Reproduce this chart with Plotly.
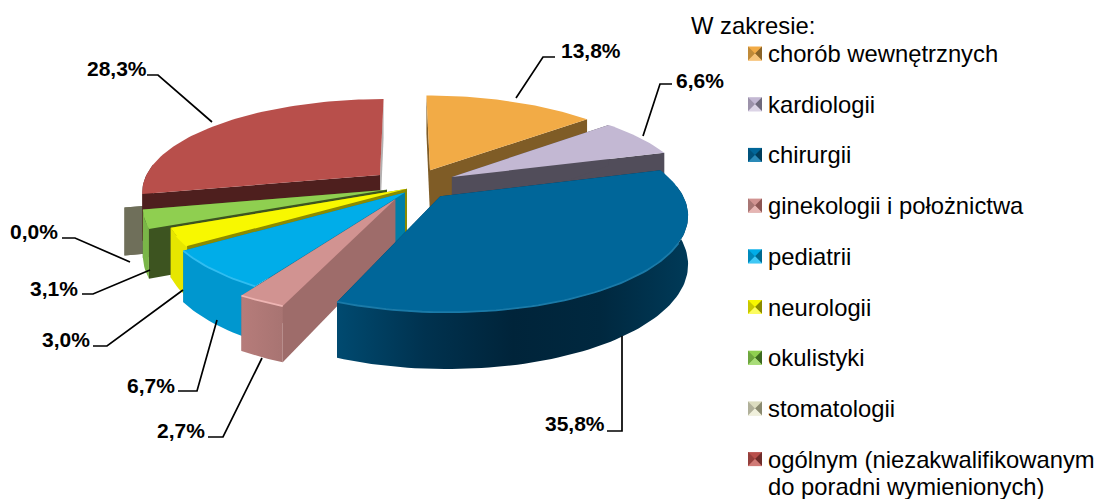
import math
import plotly.graph_objects as go

# ---- data ----
categories = ["chorób wewnętrznych", "kardiologii", "chirurgii", "ginekologii i położnictwa",
              "pediatrii", "neurologii", "okulistyki", "stomatologii",
              "ogólnym (niezakwalifikowanym"]
category_second_line = "do poradni wymienionych)"
values = [13.8, 6.6, 35.8, 2.7, 6.7, 3.0, 3.1, 0.0, 28.3]
value_labels = ["13,8%", "6,6%", "35,8%", "2,7%", "6,7%", "3,0%", "3,1%", "0,0%", "28,3%"]
legend_title = "W zakresie:"

# ---- style ----
explode_x = [0.108, 0.20, 0.145, -0.04, 0.0, 0.008, -0.075, -0.153, -0.107]
explode_y = [0.165, 0.088, -0.12, -0.15, -0.08, -0.04, -0.05, -0.03, 0.11]
top_col = ["#f2ab46", "#c3b8d3", "#006699", "#d19391", "#00ade9", "#f8f800", "#8fcf50", "#dcdcc0", "#b84f4b"]
rim_col = [["#c98a35", "#7f5c26"], ["#a89db8", "#514d5a"],
           ["#004a70", "#00324f", "#00243a", "#00283f", "#003a58"],
           ["#b67c7a", "#a87472"], ["#0097cf", "#0097cf"], ["#e6e600", "#e6e600"], ["#7ab648", "#7ab648"],
           ["#6f6f5a", "#6f6f5a"], ["#4e1f1e", "#4e1f1e"]]
wall_col = ["#7f5c26", "#514d5a", "#00324f", "#9e6c6a", "#007ea7", "#8b8b00", "#3d5420", "#6f6f5a", "#4e1f1e"]
end_wall_col = ["#7f5c26", "#514d5a", "#00324f", "#9e6c6a", "#007ea7", "#8b8b00", "#3d5420", "#6f6f5a", "#b3afaf"]
highlight = ["#f2ab46", "#c3b8d3", "#1a7aa8", "#eeb5b3", "#30bdf0", "#f8f800", "#8fcf50", "#6f6f5a", "#c9605c"]
sw_dark = ["#8a6428", "#6f6a7c", "#003c5a", "#8c5654", "#006a90", "#8b8b00", "#3d6a20", "#8a8a70", "#6e2c2a"]
sw_mid = ["#c08a38", "#9c92aa", "#00527c", "#a87674", "#008abc", "#c8c800", "#6ea63e", "#b0b09a", "#943f3c"]
sw_light = ["#f7c47a", "#dcd4e6", "#2a8ab8", "#e6b5b3", "#40c8f5", "#fcfc60", "#a8dc78", "#f0f0dc", "#d07a76"]

paint_order = [7, 8, 0, 1, 6, 5, 4, 3, 2]

CX, CY, RX, RY, K, DEPTH = 405, 185, 238, 92, 0.17, 46


def proj(X, Y, drop=0.0):
    s = 1 / (1 + K * Y)
    return CX + RX * X * s, CY - RY * Y * s + drop * DEPTH * s


def poly(pts, color=None, grad=None):
    xs = [p[0] for p in pts] + [pts[0][0]]
    ys = [p[1] for p in pts] + [pts[0][1]]
    kw = dict(x=xs, y=ys, mode="lines", line=dict(width=0), fill="toself", hoverinfo="skip", showlegend=False)
    if grad:
        steps = len(grad) - 1
        kw["fillgradient"] = dict(type="horizontal", colorscale=[[j / steps, c] for j, c in enumerate(grad)])
    else:
        kw["fillcolor"] = color
    return go.Scatter(**kw)


fig = go.Figure()
total = sum(values)
edges = [0.0]
for v in values:
    edges.append(edges[-1] + v / total * 2 * math.pi)

for i in paint_order:
    a0, a1 = edges[i], edges[i + 1]
    ax, ay = explode_x[i], explode_y[i]
    n = max(2, int((a1 - a0) * 40))
    angs = [a0 + (a1 - a0) * j / n for j in range(n + 1)]
    rim = [(ax + math.sin(a), ay + math.cos(a)) for a in angs]
    top = [proj(*p) for p in rim]
    low = [proj(*p, 1.0) for p in rim]
    apex_t, apex_b = proj(ax, ay), proj(ax, ay, 1.0)
    # radial walls
    fig.add_trace(poly([apex_t, top[-1], low[-1], apex_b], end_wall_col[i]))
    fig.add_trace(poly([apex_t, top[0], low[0], apex_b], wall_col[i]))
    if values[i] == 0:
        continue
    # outer wall, only where it faces the viewer
    ft = [p for p, a in zip(top, angs) if math.cos(a) < 0.12]
    fl = [p for p, a in zip(low, angs) if math.cos(a) < 0.12]
    if len(ft) > 1:
        fig.add_trace(poly(ft + fl[::-1], grad=rim_col[i]))
    # top
    fig.add_trace(poly([apex_t] + top, top_col[i]))
    # bevel along the front of the rim
    fr = [p for p, a in zip(top, angs) if math.cos(a) < -0.45]
    if len(fr) > 1:
        fig.add_trace(go.Scatter(x=[p[0] for p in fr], y=[p[1] for p in fr], mode="lines",
                                 line=dict(color=highlight[i], width=1.8), hoverinfo="skip", showlegend=False))

# leader lines and value labels
label_pos = [(591, 50), (700, 80), (575, 423), (181, 430), (151, 385), (66, 339), (54, 288), (34, 231), (117, 68)]
leaders = [[(555, 57), (543, 57), (516, 98)],
           [(672, 84), (660, 84), (643, 136)],
           [(607, 431), (622, 431), (622, 336)],
           [(208, 437), (223, 437), (262, 358)],
           [(178, 391), (197, 391), (217, 320)],
           [(93, 346), (107, 346), (183, 290)],
           [(82, 294), (93, 294), (150, 270)],
           [(62, 238), (75, 238), (130, 262)],
           [(147, 75), (158, 75), (212, 122)]]
for seg in leaders:
    fig.add_trace(go.Scatter(x=[p[0] for p in seg], y=[p[1] for p in seg], mode="lines",
                             line=dict(color="#000000", width=1.7), hoverinfo="skip", showlegend=False))

ann = []
for txt, (x, y) in zip(value_labels, label_pos):
    ann.append(dict(x=x, y=y, text=f"<b>{txt}</b>", showarrow=False, xanchor="center", yanchor="middle",
                    font=dict(family="Liberation Sans", size=21, color="#000000")))

# legend
LEG_FONT = dict(family="Liberation Sans", size=23.8, color="#000000")
ann.append(dict(x=689, y=25, text=legend_title, showarrow=False, xanchor="left", yanchor="middle", font=LEG_FONT))
LEG_Y0, LEG_DY = 53.5, 50.7
for i, c in enumerate(categories):
    yc = LEG_Y0 + i * LEG_DY
    x0, x1, y0, y1 = 748, 762, yc - 7, yc + 7
    m = ((x0 + x1) / 2, yc)
    fig.add_trace(poly([(x0, y0), (x1, y0), (x1, y1), (x0, y1)], top_col[i]))
    fig.add_trace(poly([(x0, y0), (x0, y1), m], sw_mid[i]))
    fig.add_trace(poly([(x1, y0), (x1, y1), m], sw_dark[i]))
    fig.add_trace(poly([(x0, y1), (x1, y1), m], sw_light[i]))
    ann.append(dict(x=766, y=yc, text=c, showarrow=False, xanchor="left", yanchor="middle", font=LEG_FONT))
ann.append(dict(x=766, y=LEG_Y0 + 8 * LEG_DY + 27, text=category_second_line, showarrow=False, xanchor="left",
                yanchor="middle", font=LEG_FONT))

fig.update_layout(width=1099, height=499, margin=dict(l=0, r=0, t=0, b=0), paper_bgcolor="#ffffff",
                  plot_bgcolor="#ffffff", showlegend=False, annotations=ann,
                  xaxis=dict(range=[0, 1099], visible=False, fixedrange=True),
                  yaxis=dict(range=[499, 0], visible=False, fixedrange=True))
fig.write_html("out.html", config=dict(displayModeBar=False),
               post_script="document.body.style.margin='0';document.documentElement.style.overflow='hidden';")
